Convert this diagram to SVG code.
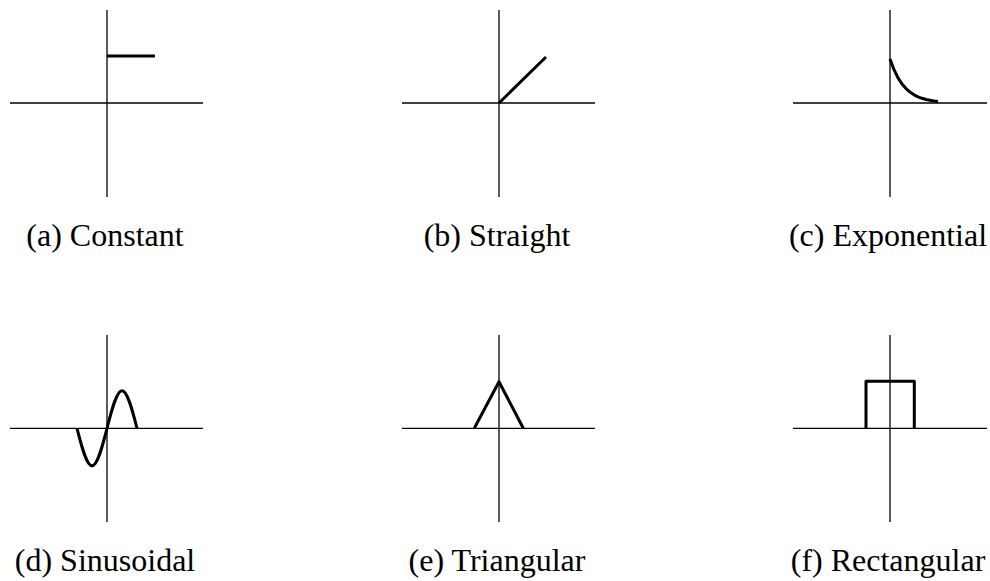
<svg xmlns="http://www.w3.org/2000/svg" width="990" height="581" viewBox="0 0 990 581">
<style>
.axis{stroke:#000;stroke-width:1.3;fill:none}
.curve{stroke:#000;stroke-width:3;fill:none;stroke-linejoin:round}
.lbl{font-family:"Liberation Serif","Times New Roman",serif;font-size:32px;fill:#000;text-anchor:middle}
</style>
<rect width="990" height="581" fill="#fff"/>
<g id="panel-a">
<line class="axis" x1="107" y1="10" x2="107" y2="197"/>
<line class="axis" x1="10" y1="103" x2="203" y2="103"/>
<line class="curve" x1="107" y1="56" x2="155" y2="56"/>
<text class="lbl" x="105" y="246">(a) Constant</text>
</g>
<g id="panel-b">
<line class="axis" x1="499" y1="10" x2="499" y2="197"/>
<line class="axis" x1="402" y1="103" x2="595" y2="103"/>
<line class="curve" x1="499" y1="103" x2="546" y2="57"/>
<text class="lbl" x="497" y="246">(b) Straight</text>
</g>
<g id="panel-c">
<line class="axis" x1="890" y1="10" x2="890" y2="197"/>
<line class="axis" x1="793" y1="103" x2="987" y2="103"/>
<polyline class="curve" points="890,59 894,69.7 898,77.9 902,84 906,88.6 910,92.1 914,94.8 918,96.8 922,98.3 926,99.5 930,100.3 934,101 938,101.5"/>
<text class="lbl" x="888" y="246">(c) Exponential</text>
</g>
<g id="panel-d">
<line class="axis" x1="107" y1="335" x2="107" y2="522"/>
<line class="axis" x1="10" y1="428.3" x2="203" y2="428.3"/>
<path class="curve" d="M77,428.3 C81.89,447.51 86.6,465.8 92,465.8 C97.4,465.8 102.11,447.51 107,428.3 C111.89,409.09 116.6,390.8 122,390.8 C127.4,390.8 132.11,409.09 137,428.3"/>
<text class="lbl" x="105" y="571">(d) Sinusoidal</text>
</g>
<g id="panel-e">
<line class="axis" x1="499" y1="335" x2="499" y2="522"/>
<line class="axis" x1="402" y1="428.3" x2="595" y2="428.3"/>
<polyline class="curve" points="474.3,428.3 499,381.7 523.3,428.3"/>
<text class="lbl" x="497" y="571">(e) Triangular</text>
</g>
<g id="panel-f">
<line class="axis" x1="890" y1="335" x2="890" y2="522"/>
<line class="axis" x1="793" y1="428.3" x2="987" y2="428.3"/>
<polyline class="curve" points="866,428.3 866,381.3 914.3,381.3 914.3,428.3"/>
<text class="lbl" x="888" y="571">(f) Rectangular</text>
</g>
</svg>
